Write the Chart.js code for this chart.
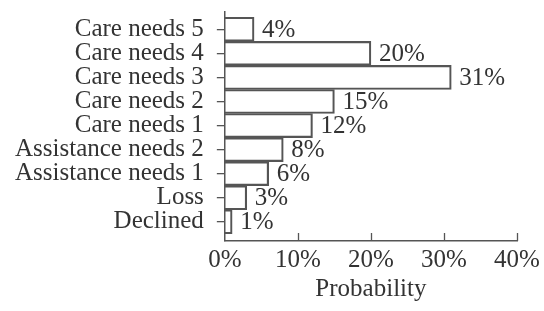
<!DOCTYPE html>
<html>
<head>
<meta charset="utf-8">
<script src="https://cdn.jsdelivr.net/npm/chart.js@4.4.0/dist/chart.umd.min.js"></script>
<style>
  html, body { margin: 0; padding: 0; background: #fff; }
  #wrap { width: 544px; height: 311px; }
</style>
</head>
<body>
<div id="wrap"><canvas id="myChart"></canvas></div>
<script>
// categories top to bottom
var categories = ['Care needs 5', 'Care needs 4', 'Care needs 3', 'Care needs 2', 'Care needs 1',
                  'Assistance needs 2', 'Assistance needs 1', 'Loss', 'Declined']
var probability = [4, 20, 31, 15, 12, 8, 6, 3, 1]
var xTicks = [0, 10, 20, 30, 40]

var ink = '#333'
var lineColor = '#555'
var serif = "'Liberation Serif', 'DejaVu Serif', serif"

var points = []
for (var i = 0; i < categories.length; i++) {
  points.push({ x: probability[i], y: i })
}

// inward tick marks on x axis + value labels next to the bars
const extras = {
  id: 'extras',
  afterDatasetsDraw(chart) {
    const ctx = chart.ctx
    const xs = chart.scales.x
    const bottom = chart.chartArea.bottom
    ctx.save()
    ctx.strokeStyle = lineColor
    ctx.lineWidth = 1.3
    for (var t = 1; t < xTicks.length; t++) {
      var px = Math.round(xs.getPixelForValue(xTicks[t])) + 0.5
      ctx.beginPath()
      ctx.moveTo(px, bottom)
      ctx.lineTo(px, bottom - 8)
      ctx.stroke()
    }
    ctx.fillStyle = ink
    ctx.font = '25px ' + serif
    ctx.textBaseline = 'middle'
    ctx.textAlign = 'left'
    const meta = chart.getDatasetMeta(0)
    meta.data.forEach(function (bar, idx) {
      ctx.fillText(probability[idx] + '%', bar.x + 8, bar.y + 1)
    })
    ctx.restore()
  }
}

const config = {
  type: 'bar',
  data: {
    datasets: [{
      data: points,
      backgroundColor: 'rgba(255,255,255,0)',
      borderColor: lineColor,
      borderWidth: 1.5,
      barPercentage: 1,
      categoryPercentage: 1
    }]
  },
  options: {
    indexAxis: 'y',
    responsive: false,
    animation: false,
    devicePixelRatio: 1,
    layout: { padding: { left: 2, right: 27, top: 12, bottom: 9 } },
    plugins: {
      legend: { display: false },
      tooltip: { enabled: false }
    },
    scales: {
      x: {
        type: 'linear',
        min: 0,
        max: 40,
        afterBuildTicks: function (scale) {
          scale.ticks = xTicks.map(function (v) { return { value: v } })
        },
        afterFit: function (scale) {
          scale.paddingRight = 0
        },
        grid: { display: false, drawTicks: false },
        border: { display: true, color: lineColor, width: 1.5 },
        ticks: {
          color: ink,
          font: { family: serif, size: 25, lineHeight: 1 },
          padding: 7,
          maxRotation: 0,
          callback: function (v) { return v + '%' }
        },
        title: {
          display: true,
          text: 'Probability',
          color: ink,
          font: { family: serif, size: 25, lineHeight: 1 },
          padding: { top: -3, bottom: 0 }
        }
      },
      y: {
        type: 'linear',
        reverse: true,
        offset: false,
        min: -0.72,
        max: 8.8,
        afterFit: function (scale) {
          scale.paddingTop = 0
          scale.paddingBottom = 0
        },
        grid: {
          offset: false,
          drawOnChartArea: false,
          drawTicks: true,
          tickLength: 8,
          color: lineColor,
          lineWidth: 1.3
        },
        border: { display: true, color: lineColor, width: 1.5 },
        ticks: {
          stepSize: 1,
          autoSkip: false,
          includeBounds: false,
          color: ink,
          font: { family: serif, size: 25 },
          padding: 13,
          callback: function (v) { return categories[v] }
        }
      }
    }
  },
  plugins: [extras]
}

var cv = document.getElementById('myChart')
cv.width = 544
cv.height = 311
var myChart = new Chart(cv, config)
</script>
</body>
</html>
